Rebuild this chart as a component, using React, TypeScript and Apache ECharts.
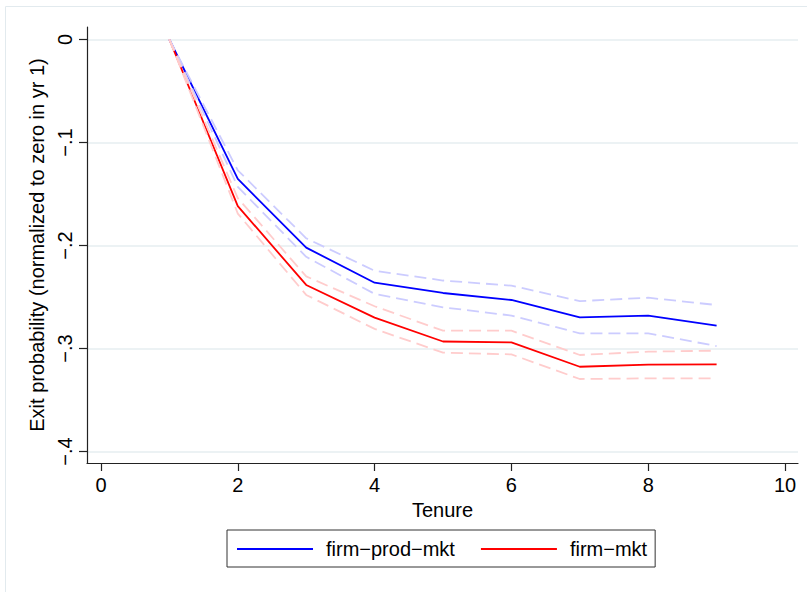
import React, { useEffect, useRef } from "react";
import * as echarts from "echarts";

const tenure = [1, 2, 3, 4, 5, 6, 7, 8, 9];
const prodMkt = [0, -0.1354, -0.2021, -0.2361, -0.2461, -0.2529, -0.2697, -0.2681, -0.2778];
const prodMktUpper = [0, -0.127, -0.193, -0.2245, -0.234, -0.239, -0.254, -0.2507, -0.2578];
const prodMktLower = [0, -0.143, -0.211, -0.247, -0.26, -0.268, -0.2853, -0.2853, -0.2976];
const mkt = [0, -0.1617, -0.2383, -0.27, -0.2932, -0.294, -0.3177, -0.3157, -0.3154];
const mktUpper = [0, -0.154, -0.23, -0.259, -0.2827, -0.2827, -0.3063, -0.3031, -0.3021];
const mktLower = [0, -0.169, -0.248, -0.281, -0.304, -0.3057, -0.3296, -0.329, -0.329];
const xTicks = [0, 2, 4, 6, 8, 10];
const yTicks = [-0.4, -0.3, -0.2, -0.1, 0];

const zip = (ys: number[]) => tenure.map((t, i) => [t, ys[i]]);
const FONT = "Liberation Sans, Arial, Helvetica, sans-serif";
const FS = 20;
const fmtY = (v: number) => {
  if (Math.abs(v) < 1e-9) return "0";
  const s = Math.abs(v).toFixed(1).replace(/^0/, "");
  return (v < 0 ? "\u2212" : "") + s;
};

export default function App() {
  const ref = useRef<HTMLDivElement>(null);
  useEffect(() => {
    if (!ref.current) return;
    const chart = echarts.init(ref.current, null, { renderer: "svg" });
    const mainLine = (name: string, color: string, ys: number[]) => ({
      name,
      type: "line",
      data: zip(ys),
      symbol: "none",
      lineStyle: { color, width: 1.8 },
      itemStyle: { color },
      z: 2,
    });
    const band = (name: string, color: string, ys: number[]) => ({
      name,
      type: "line",
      data: zip(ys),
      symbol: "none",
      lineStyle: { color, width: 1.8, type: [12, 6] },
      itemStyle: { color },
      z: 3,
    });
    chart.setOption({
      animation: false,
      backgroundColor: "#ffffff",
      textStyle: { fontFamily: FONT },
      graphic: [
        {
          type: "rect",
          shape: { x: 5.5, y: 6.5, width: 820, height: 600 },
          style: { fill: "none", stroke: "#e2eaee", lineWidth: 1 },
          silent: true,
        },
      ],
      grid: { left: 87, top: 27, right: 9, bottom: 129 },
      legend: {
        data: ["firm\u2212prod\u2212mkt", "firm\u2212mkt"],
        left: 227,
        top: 530,
        orient: "horizontal",
        icon: "rect",
        itemWidth: 76,
        itemHeight: 2,
        itemGap: 26,
        padding: [9, 8, 8, 10],
        borderColor: "#333333",
        borderWidth: 1,
        borderRadius: 0,
        textStyle: { fontSize: FS, color: "#000", fontFamily: FONT, padding: [0, 0, 0, 8] },
      },
      xAxis: {
        type: "value",
        min: -0.2047,
        max: 10.19,
        name: "Tenure",
        nameLocation: "middle",
        nameGap: 31,
        nameTextStyle: { fontSize: FS, color: "#000", fontFamily: FONT },
        axisLine: { show: true, onZero: false, lineStyle: { color: "#222", width: 1.2 } },
        axisTick: { show: true, length: 8, customValues: xTicks, lineStyle: { color: "#222", width: 1.2 } },
        axisLabel: { customValues: xTicks, fontSize: FS, color: "#000", margin: 12, fontFamily: FONT },
        splitLine: { show: false },
      },
      yAxis: {
        type: "value",
        min: -0.41117,
        max: 0.01214,
        name: "Exit probability (normalized to zero in yr 1)",
        nameLocation: "middle",
        nameGap: 36,
        nameTextStyle: { fontSize: FS, color: "#000", fontFamily: FONT },
        axisLine: { show: true, onZero: false, lineStyle: { color: "#222", width: 1.2 } },
        axisTick: { show: true, length: 8, customValues: yTicks, lineStyle: { color: "#222", width: 1.2 } },
        axisLabel: {
          customValues: yTicks,
          rotate: 90,
          fontSize: FS,
          color: "#000",
          margin: 12,
          fontFamily: FONT,
          formatter: (v: number) => fmtY(v),
        },
        splitLine: { show: true, lineStyle: { color: "#e6eef1", width: 1.5 } },
      },
      series: [
        mainLine("firm\u2212prod\u2212mkt", "#0000ff", prodMkt),
        mainLine("firm\u2212mkt", "#ff0000", mkt),
        band("prodMktUpper", "#ccccff", prodMktUpper),
        band("prodMktLower", "#ccccff", prodMktLower),
        band("mktUpper", "#ffcccc", mktUpper),
        band("mktLower", "#ffcccc", mktLower),
      ],
    });
    return () => chart.dispose();
  }, []);
  return (
    <div
      ref={ref}
      style={{ position: "fixed", left: 0, top: 0, width: 807, height: 592, background: "#fff" }}
    />
  );
}
